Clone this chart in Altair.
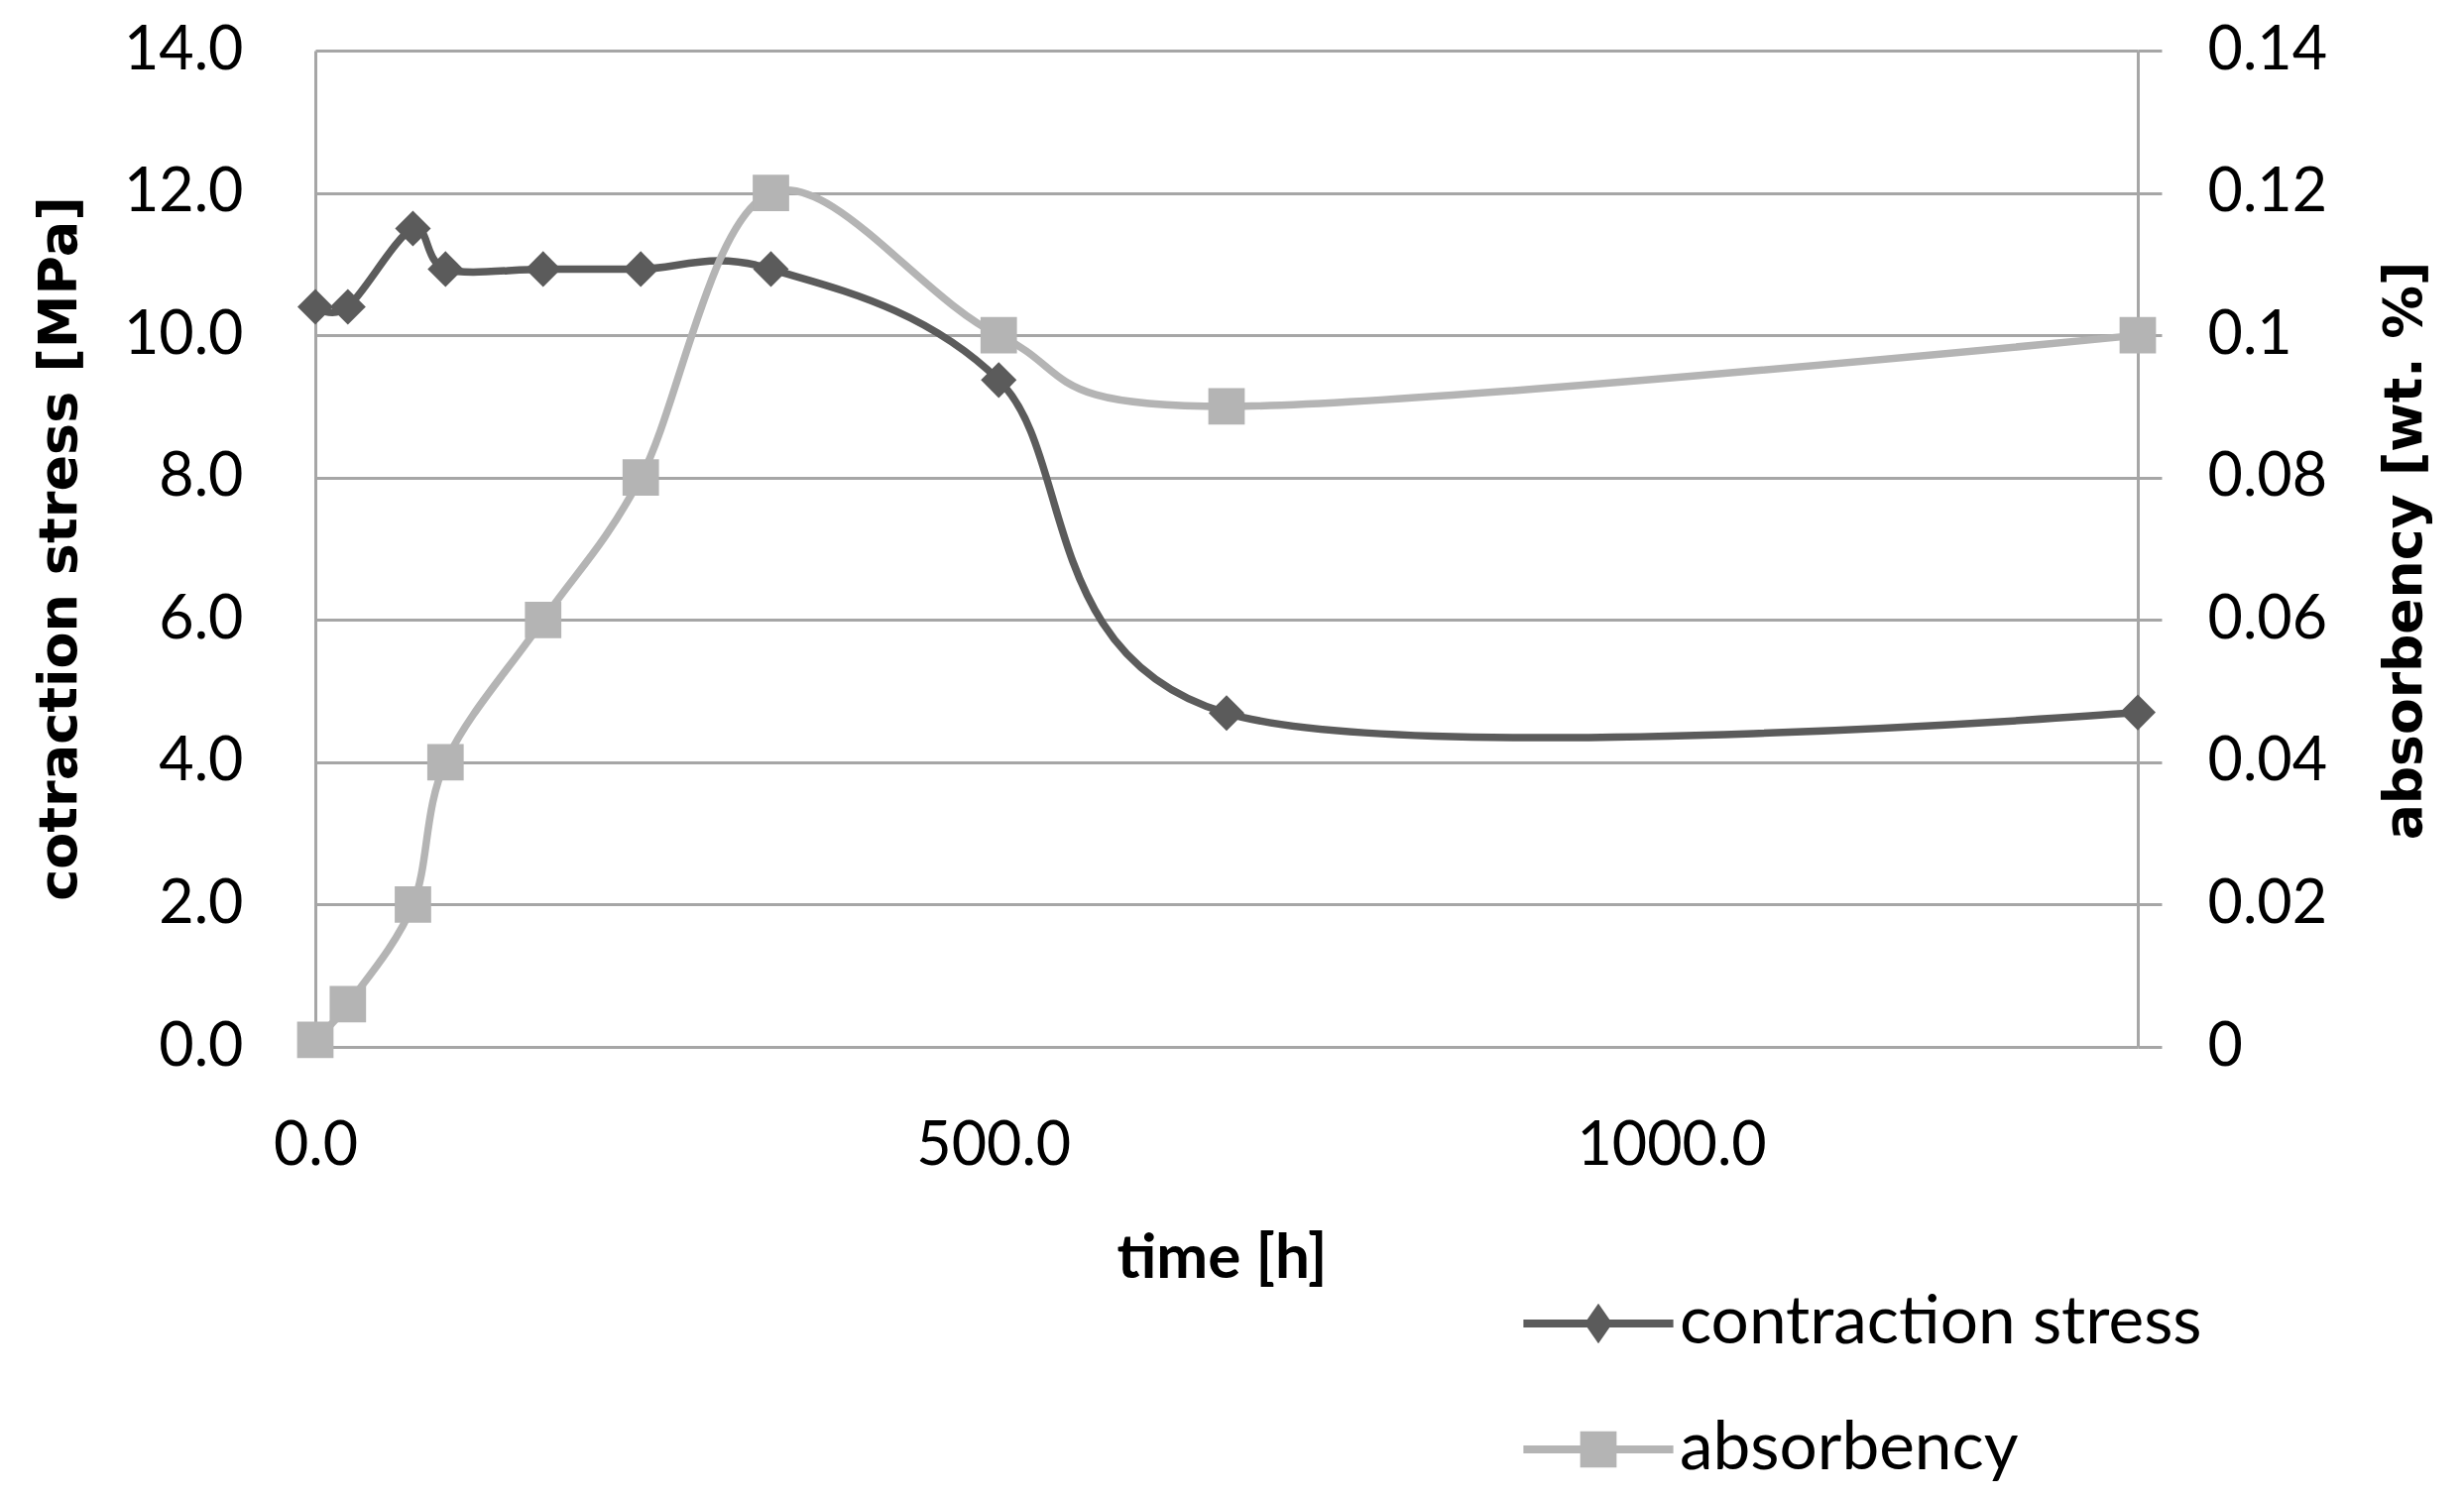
import altair as alt
import pandas as pd

# ---- data ----
time_h = [0, 24, 72, 96, 168, 240, 336, 504, 672, 1344]
stress_mpa = [10.4, 10.4, 11.5, 10.93, 10.93, 10.93, 10.93, 9.37, 4.69, 4.70]
absorbency_wt = [0.001, 0.006, 0.02, 0.04, 0.06, 0.08, 0.12, 0.10, 0.09, 0.10]
series_names = ["contraction stress", "absorbency"]
x_ticks = [0, 500, 1000]
y_left_ticks = [0, 2, 4, 6, 8, 10, 12, 14]
y_right_ticks = [0, 0.02, 0.04, 0.06, 0.08, 0.10, 0.12, 0.14]

DARK = "#5b5b5b"
LIGHT = "#b4b4b4"
GRID = "#a6a6a6"
TICK_FONT = "Lato"
TITLE_FONT = "DejaVu Sans"

df = pd.DataFrame({"time": time_h, "stress": stress_mpa, "absorbency": absorbency_wt})
legend_df = pd.DataFrame({"series": series_names, "time": [-500, -500], "stress": [5, 5]})

# legend symbols: line segment + marker (unit coords, scaled by sqrt(size)/2)
PATH_D = "M-2.1,-0.11L2.1,-0.11L2.1,0.11L-2.1,0.11Z M0,-0.56L0.39,0L0,0.56L-0.39,0Z"
PATH_S = "M-2.1,-0.11L2.1,-0.11L2.1,0.11L-2.1,0.11Z M-0.51,-0.51L0.51,-0.51L0.51,0.51L-0.51,0.51Z"

x_enc = alt.X(
    "time:Q",
    scale=alt.Scale(domain=[0, 1344], nice=False, zero=False),
    axis=alt.Axis(
        values=x_ticks, format=".1f", title="time [h]",
        grid=False, domain=False, ticks=False, labelFlush=False, labelLimit=1000,
        labelOverlap=False,
        labelFont=TICK_FONT, labelFontSize=61, labelColor="#000000", labelPadding=70,
        titleFont=TICK_FONT, titleFontSize=62, titleFontWeight="bold", titleColor="#000000",
        titleX=914, titleY=232, titleBaseline="alphabetic",
    ),
)

y_left = alt.Y(
    "stress:Q",
    scale=alt.Scale(domain=[0, 14], nice=False),
    axis=alt.Axis(
        values=y_left_ticks, format=".1f", title="cotraction stress [MPa]",
        grid=True, gridColor=GRID, gridWidth=3,
        domain=True, domainColor=GRID, domainWidth=3,
        ticks=False, tickSize=0, labelLimit=1000, labelOverlap=False,
        labelFont=TICK_FONT, labelFontSize=61, labelColor="#000000", labelPadding=73,
        titleFont=TITLE_FONT, titleFontSize=54, titleFontWeight="bold", titleColor="#000000",
        titleAngle=270, titleX=-258, titleY=502, titleBaseline="middle", titleAlign="center",
        titleLimit=2000,
    ),
)

y_right = alt.Y(
    "absorbency:Q",
    scale=alt.Scale(domain=[0, 0.14], nice=False),
    axis=alt.Axis(
        orient="right", values=y_right_ticks, format=".2~f", title="absorbency [wt. %]",
        grid=False, domain=True, domainColor=GRID, domainWidth=3,
        ticks=True, tickSize=24, tickColor=GRID, tickWidth=3,
        labelLimit=1000, labelOverlap=False,
        labelFont=TICK_FONT, labelFontSize=61, labelColor="#000000", labelPadding=46,
        titleFont=TITLE_FONT, titleFontSize=53.5, titleFontWeight="bold", titleColor="#000000",
        titleAngle=270, titleX=269, titleY=504, titleBaseline="middle", titleAlign="center",
        titleLimit=2000,
    ),
)

legend_cfg = dict(
    title=None, orient="none", legendX=1258, legendY=1248, direction="vertical",
    symbolSize=5184, symbolStrokeWidth=0, symbolOpacity=1,
    labelFont=TICK_FONT, labelFontSize=67.5, labelColor="#000000", labelOffset=46,
    labelLimit=2000, rowPadding=57, padding=0,
)

base = alt.Chart(df)

stress_line = base.mark_line(color=DARK, strokeWidth=7.5, interpolate="cardinal").encode(x=x_enc, y=y_left)
stress_pts = base.mark_point(shape="diamond", filled=True, size=1300, color=DARK, opacity=1).encode(x=x_enc, y=y_left)

legend_pts = alt.Chart(legend_df).mark_point(filled=True, clip=True, size=5184, opacity=1, strokeWidth=0).encode(
    x=x_enc,
    y=y_left,
    color=alt.Color(
        "series:N",
        scale=alt.Scale(domain=series_names, range=[DARK, LIGHT]),
        legend=alt.Legend(**legend_cfg),
    ),
    shape=alt.Shape(
        "series:N",
        scale=alt.Scale(domain=series_names, range=[PATH_D, PATH_S]),
        legend=alt.Legend(**legend_cfg),
    ),
)

abs_line = base.mark_line(color=LIGHT, strokeWidth=7.5, interpolate="cardinal").encode(x=x_enc, y=y_right)
abs_pts = base.mark_point(shape="square", filled=True, size=1350, color=LIGHT, opacity=1).encode(x=x_enc, y=y_right)

left = alt.layer(stress_line, stress_pts, legend_pts)
right = alt.layer(abs_line, abs_pts)

chart = (
    alt.layer(left, right)
    .resolve_scale(y="independent")
    .properties(
        width=1838,
        height=1005,
        padding={"left": 310, "top": 43, "right": 300, "bottom": 446},
        autosize=alt.AutoSizeParams(type="none"),
        background="white",
    )
    .configure_view(stroke=None)
)

chart.save("out.html", embed_options={"renderer": "svg", "actions": False})
